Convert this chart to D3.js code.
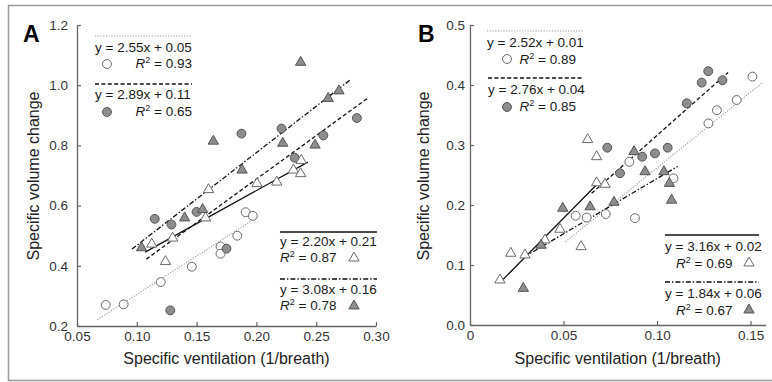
<!DOCTYPE html>
<html>
<head>
<meta charset="utf-8">
<script src="https://cdn.jsdelivr.net/npm/d3@7"></script>
<style>
  body { margin: 0; background: #fff; }
  text { font-family: "Liberation Sans", Arial, sans-serif; }
</style>
</head>
<body>
<svg id="chart" width="772" height="382"></svg>
<script>
// values, [ventilation, volume change]
// group order everywhere: open circles, filled circles, open triangles, filled triangles
const aOpenCircles = [[0.074, 0.270], [0.089, 0.272], [0.120, 0.346], [0.146, 0.397], [0.170, 0.464],
  [0.170, 0.440], [0.184, 0.500], [0.191, 0.578], [0.197, 0.566]];
const aFilledCircles = [[0.115, 0.556], [0.129, 0.537], [0.150, 0.579], [0.175, 0.457], [0.128, 0.252],
  [0.1875, 0.839], [0.221, 0.856], [0.232, 0.759], [0.256, 0.833], [0.284, 0.891]];
const aOpenTriangles = [[0.1125, 0.472], [0.124, 0.414], [0.130, 0.492], [0.1575, 0.559], [0.160, 0.653],
  [0.2005, 0.673], [0.217, 0.678], [0.231, 0.718], [0.237, 0.706], [0.2375, 0.750]];
const aFilledTriangles = [[0.104, 0.460], [0.140, 0.559], [0.155, 0.587], [0.164, 0.814], [0.188, 0.718],
  [0.222, 0.807], [0.237, 1.076], [0.249, 0.801], [0.260, 0.956], [0.269, 0.981]];

const bOpenCircles = [[0.0565, 0.182], [0.0624, 0.179], [0.0726, 0.185], [0.0852, 0.272], [0.0882, 0.178],
  [0.1088, 0.2445], [0.1275, 0.336], [0.132, 0.358], [0.1426, 0.375], [0.151, 0.414]];
const bFilledCircles = [[0.0734, 0.2955], [0.0802, 0.253], [0.0921, 0.2805], [0.0989, 0.286], [0.1057, 0.2955],
  [0.1159, 0.3695], [0.1239, 0.404], [0.1274, 0.423], [0.135, 0.408]];
const bOpenTriangles = [[0.016, 0.075], [0.0218, 0.1195], [0.0294, 0.1167], [0.0401, 0.1417], [0.0481, 0.1595],
  [0.0594, 0.1305], [0.0629, 0.309], [0.0677, 0.2805], [0.0677, 0.237], [0.0722, 0.2345]];
const bFilledTriangles = [[0.0285, 0.061], [0.038, 0.133], [0.0496, 0.1945], [0.0642, 0.197], [0.077, 0.2045],
  [0.0877, 0.289], [0.0936, 0.2555], [0.1037, 0.2555], [0.1066, 0.236], [0.1078, 0.208]];

// regression fits
const aSlopes = [2.55, 2.89, 2.20, 3.08];
const aIntercepts = [0.05, 0.11, 0.21, 0.16];
const aR2 = [0.93, 0.65, 0.87, 0.78];
const aFitRanges = [[0.067, 0.201], [0.108, 0.293], [0.107, 0.243], [0.096, 0.278]];

const bSlopes = [2.52, 2.76, 3.16, 1.84];
const bIntercepts = [0.01, 0.04, 0.02, 0.06];
const bR2 = [0.89, 0.85, 0.69, 0.67];
const bFitRanges = [[0.051, 0.156], [0.065, 0.138], [0.016, 0.069], [0.029, 0.111]];

// ticks
const aXTicks = [0.05, 0.10, 0.15, 0.20, 0.25, 0.30];
const aYTicks = [0.2, 0.4, 0.6, 0.8, 1.0, 1.2];
const bXTicks = [0, 0.05, 0.10, 0.15];
const bYTicks = [0.0, 0.1, 0.2, 0.3, 0.4, 0.5];

const xTitle = "Specific ventilation (1/breath)";
const yTitle = "Specific volume change";

// looks for each group
const styles = [
  { symbol: d3.symbolCircle, size: 62, fill: "#fff", stroke: "#6a6a6a", line: "#a0a0a0", dash: "1.2,1.5", width: 1.2 },
  { symbol: d3.symbolCircle, size: 62, fill: "#8d8d8d", stroke: "#555", line: "#111", dash: "4,2.4", width: 1.3 },
  { symbol: d3.symbolTriangle, size: 46, fill: "#fff", stroke: "#6a6a6a", line: "#111", dash: null, width: 1.3 },
  { symbol: d3.symbolTriangle, size: 46, fill: "#8d8d8d", stroke: "#555", line: "#111", dash: "5,2,1.4,2", width: 1.3 }
];

const svg = d3.select("#chart");

// figure frame
svg.append("rect")
  .attr("x", 8.5).attr("y", 5.5).attr("width", 780).attr("height", 375)
  .attr("fill", "none").attr("stroke", "#9a9a9a").attr("stroke-width", 1.5);

function eqText(m, b) {
  return "y = " + m.toFixed(2) + "x + " + b.toFixed(2);
}

function marker(g, i, x, y) {
  const s = styles[i];
  g.append("path")
    .attr("d", d3.symbol().type(s.symbol).size(s.size)())
    .attr("transform", `translate(${x},${y})`)
    .attr("fill", s.fill).attr("stroke", s.stroke).attr("stroke-width", 1);
}

function r2Text(g, r2, x, y, anchor) {
  const t = g.append("text").attr("x", x).attr("y", y)
    .attr("text-anchor", anchor).attr("font-size", 13.5).attr("fill", "#1a1a1a");
  t.append("tspan").attr("font-style", "italic").text("R");
  t.append("tspan").attr("dy", -5).attr("font-size", 9).text("2");
  t.append("tspan").attr("dy", 5).text("  = " + r2.toFixed(2));
  return t;
}

// one legend block: rule, equation, then marker + R²
function legendBlock(g, o) {
  const s = styles[o.i];
  g.append("line")
    .attr("x1", o.x0).attr("x2", o.x1).attr("y1", o.lineY).attr("y2", o.lineY)
    .attr("stroke", s.line).attr("stroke-width", s.width)
    .attr("stroke-dasharray", s.dash);
  g.append("text").attr("x", o.x0).attr("y", o.eqY)
    .attr("font-size", 13.5).attr("fill", "#1a1a1a")
    .text(eqText(o.m, o.b));
  r2Text(g, o.r2, o.r2X, o.r2Y, o.r2Anchor);
  marker(g, o.i, o.mx, o.my);
}

function drawPanel(p) {
  const g = svg.append("g");
  const x = d3.scaleLinear().domain(p.xDomain).range(p.xRange);
  const y = d3.scaleLinear().domain(p.yDomain).range(p.yRange);

  // axes
  const xAxis = g.append("g").attr("transform", `translate(0,${p.yRange[0]})`)
    .call(d3.axisBottom(x).tickValues(p.xTicks).tickFormat(p.xFormat)
      .tickSizeInner(-4).tickSizeOuter(0).tickPadding(5));
  const yAxis = g.append("g").attr("transform", `translate(${p.xRange[0]},0)`)
    .call(d3.axisLeft(y).tickValues(p.yTicks).tickFormat(d3.format(".1f"))
      .tickSizeInner(-4).tickSizeOuter(0).tickPadding(p.yPad));
  [xAxis, yAxis].forEach(a => {
    a.select(".domain").attr("stroke", "#666").attr("stroke-width", 1.3);
    a.selectAll(".tick line").attr("stroke", "#666").attr("stroke-width", 1.2);
    a.selectAll(".tick text").attr("font-size", 13.5).attr("fill", "#333")
      .attr("font-family", "Liberation Sans, Arial, sans-serif");
  });

  // regression lines
  p.slopes.forEach((m, i) => {
    const s = styles[i];
    const [x0, x1] = p.ranges[i];
    g.append("line")
      .attr("x1", x(x0)).attr("y1", y(m * x0 + p.intercepts[i]))
      .attr("x2", x(x1)).attr("y2", y(m * x1 + p.intercepts[i]))
      .attr("stroke", s.line).attr("stroke-width", s.width)
      .attr("stroke-dasharray", s.dash);
  });

  // points
  p.groups.forEach((pts, i) => {
    pts.forEach(d => marker(g, i, x(d[0]), y(d[1])));
  });

  // titles
  g.append("text").attr("x", (p.xRange[0] + p.xRange[1]) / 2 + p.xTitleShift).attr("y", 364)
    .attr("text-anchor", "middle").attr("font-size", 16).attr("fill", "#222").text(xTitle);
  g.append("text").attr("transform", `translate(${p.yTitleX},176) rotate(-90)`)
    .attr("text-anchor", "middle").attr("font-size", 16).attr("fill", "#222").text(yTitle);
  g.append("text").attr("x", p.letterX).attr("y", 42)
    .attr("font-size", 23).attr("font-weight", "bold").attr("fill", "#000").text(p.letter);

  p.legend.forEach(o => legendBlock(g, o));
}

drawPanel({
  letter: "A", letterX: 23,
  xDomain: [0.05, 0.30], xRange: [77, 376],
  yDomain: [0.2, 1.2], yRange: [326, 25],
  xTicks: aXTicks, yTicks: aYTicks, xFormat: d3.format(".2f"), yPad: 9,
  yTitleX: 39, xTitleShift: 0,
  groups: [aOpenCircles, aFilledCircles, aOpenTriangles, aFilledTriangles],
  slopes: aSlopes, intercepts: aIntercepts, ranges: aFitRanges,
  legend: [
    { i: 0, m: aSlopes[0], b: aIntercepts[0], r2: aR2[0], x0: 95, x1: 192, lineY: 36, eqY: 52,
      r2X: 192, r2Y: 68, r2Anchor: "end", mx: 107, my: 64 },
    { i: 1, m: aSlopes[1], b: aIntercepts[1], r2: aR2[1], x0: 95, x1: 192, lineY: 84, eqY: 99,
      r2X: 192, r2Y: 116, r2Anchor: "end", mx: 107, my: 112 },
    { i: 2, m: aSlopes[2], b: aIntercepts[2], r2: aR2[2], x0: 280, x1: 377, lineY: 232, eqY: 246,
      r2X: 280, r2Y: 262, r2Anchor: "start", mx: 354, my: 258 },
    { i: 3, m: aSlopes[3], b: aIntercepts[3], r2: aR2[3], x0: 280, x1: 377, lineY: 279, eqY: 294,
      r2X: 280, r2Y: 310, r2Anchor: "start", mx: 354, my: 306 }
  ]
});

drawPanel({
  letter: "B", letterX: 418,
  xDomain: [0, 0.158], xRange: [470, 765.5],
  yDomain: [0, 0.5], yRange: [325, 25],
  xTicks: bXTicks, yTicks: bYTicks, xFormat: d => d === 0 ? "0" : d3.format(".2f")(d), yPad: 5,
  yTitleX: 429, xTitleShift: 0,
  groups: [bOpenCircles, bFilledCircles, bOpenTriangles, bFilledTriangles],
  slopes: bSlopes, intercepts: bIntercepts, ranges: bFitRanges,
  legend: [
    { i: 0, m: bSlopes[0], b: bIntercepts[0], r2: bR2[0], x0: 487, x1: 583, lineY: 31, eqY: 47,
      r2X: 576, r2Y: 64, r2Anchor: "end", mx: 507, my: 59 },
    { i: 1, m: bSlopes[1], b: bIntercepts[1], r2: bR2[1], x0: 488, x1: 582, lineY: 78, eqY: 94,
      r2X: 576, r2Y: 111, r2Anchor: "end", mx: 507, my: 107 },
    { i: 2, m: bSlopes[2], b: bIntercepts[2], r2: bR2[2], x0: 665, x1: 759, lineY: 235, eqY: 251,
      r2X: 676, r2Y: 268, r2Anchor: "start", mx: 749, my: 263 },
    { i: 3, m: bSlopes[3], b: bIntercepts[3], r2: bR2[3], x0: 665, x1: 759, lineY: 282, eqY: 298,
      r2X: 676, r2Y: 315, r2Anchor: "start", mx: 749, my: 310 }
  ]
});
</script>
</body>
</html>
